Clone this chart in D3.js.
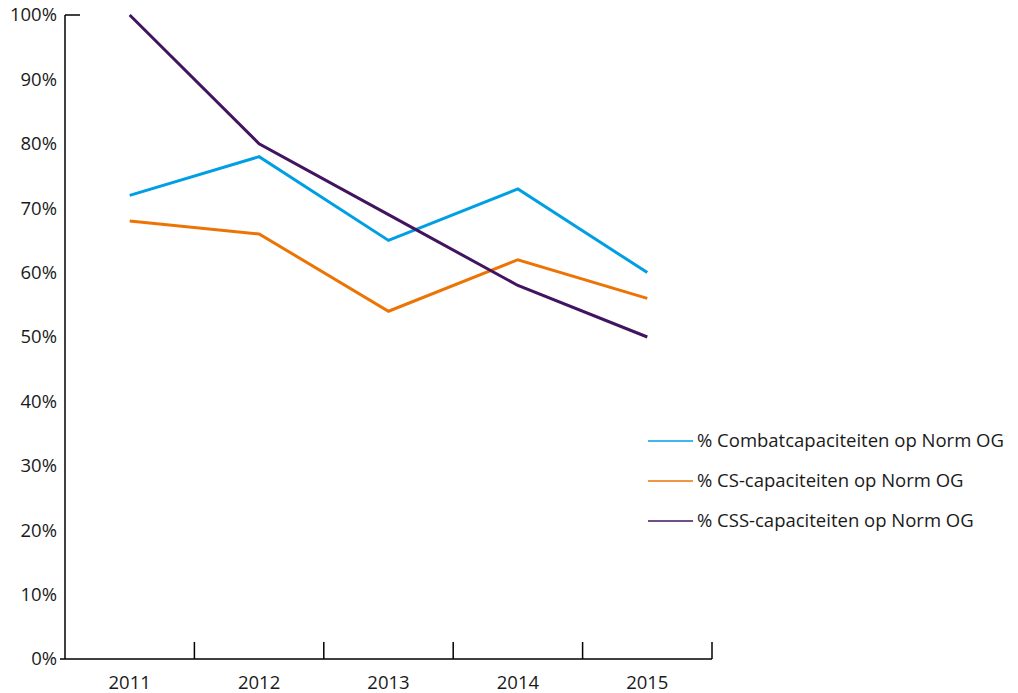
<html>
<head>
<meta charset="utf-8">
<script src="https://d3js.org/d3.v7.min.js"></script>
<style>
body { margin: 0; background: #fff; }
text { font-family: "Open Sans", sans-serif; font-size: 18.5px; fill: #1a1a1a; }
</style>
</head>
<body>
<svg width="1018" height="693"></svg>
<script>
var years = ["2011", "2012", "2013", "2014", "2015"];
var combat = [72, 78, 65, 73, 60];
var cs = [68, 66, 54, 62, 56];
var css = [100, 80, 69, 58, 50];
var yTicks = [0, 10, 20, 30, 40, 50, 60, 70, 80, 90, 100];
var seriesNames = ["% Combatcapaciteiten op Norm OG", "% CS-capaciteiten op Norm OG", "% CSS-capaciteiten op Norm OG"];
var colors = ["#009fe3", "#ec7404", "#42145f"];

var plotLeft = 65, plotRight = 712, plotTop = 15, plotBottom = 659;
var svg = d3.select("svg");

var x = d3.scaleBand().domain(years).range([plotLeft, plotRight]);
var y = d3.scaleLinear().domain([0, 100]).range([plotBottom, plotTop]);

// y labels
svg.append("g").selectAll("text")
  .data(yTicks).enter().append("text")
  .attr("x", 57)
  .attr("y", function(d){ return y(d); })
  .attr("dy", "0.35em")
  .attr("text-anchor", "end")
  .text(function(d){ return d + "%"; });

// axes lines
svg.append("line").attr("x1", plotLeft).attr("x2", plotLeft).attr("y1", plotTop).attr("y2", plotBottom)
  .attr("stroke", "#000").attr("stroke-width", 1.5);
svg.append("line").attr("x1", plotLeft).attr("x2", 80).attr("y1", plotTop).attr("y2", plotTop)
  .attr("stroke", "#000").attr("stroke-width", 1.5);
svg.append("line").attr("x1", 60).attr("x2", plotRight).attr("y1", plotBottom).attr("y2", plotBottom)
  .attr("stroke", "#000").attr("stroke-width", 1.5);

// x ticks (band boundaries, pointing up)
svg.append("g").selectAll("line")
  .data(years).enter().append("line")
  .attr("x1", function(d){ return x(d) + x.bandwidth(); })
  .attr("x2", function(d){ return x(d) + x.bandwidth(); })
  .attr("y1", plotBottom).attr("y2", plotBottom - 17)
  .attr("stroke", "#000").attr("stroke-width", 1.5);

svg.append("g").selectAll("text")
  .data(years).enter().append("text")
  .attr("x", function(d){ return x(d) + x.bandwidth() / 2; })
  .attr("y", 683)
  .attr("dy", "0.35em")
  .attr("text-anchor", "middle")
  .text(function(d){ return d; });

var line = d3.line()
  .x(function(d, i){ return x(years[i]) + x.bandwidth() / 2; })
  .y(function(d){ return y(d); });

[combat, cs, css].forEach(function(s, i){
  svg.append("path")
    .attr("d", line(s))
    .attr("fill", "none")
    .attr("stroke", colors[i])
    .attr("stroke-width", 3)
    .attr("stroke-linejoin", "miter");
});

// legend
var lg = svg.append("g").selectAll("g")
  .data(seriesNames).enter().append("g")
  .attr("transform", function(d, i){ return "translate(648," + (441 + i * 40) + ")"; });
lg.append("line").attr("x1", 0).attr("x2", 45).attr("y1", 0).attr("y2", 0)
  .attr("stroke", function(d, i){ return colors[i]; }).attr("stroke-width", 1.5);
lg.append("text").attr("x", 49).attr("dy", "0.35em").text(function(d){ return d; });
</script>
</body>
</html>
